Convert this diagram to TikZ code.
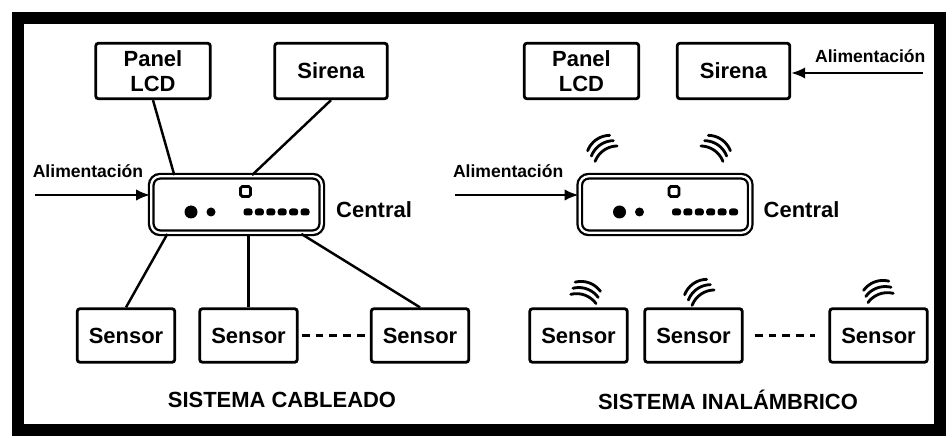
\documentclass[tikz,border=0pt]{standalone}
\usepackage{fontspec}
\setmainfont{Liberation Sans}
\usetikzlibrary{positioning,arrows.meta,calc}

\begin{document}
\begin{tikzpicture}[x=0.02cm, y=-0.02cm,
    unit/.style={draw, line width=1.6pt, rounded corners=1.5pt, align=center,
        inner sep=0pt, font=\bfseries\fontsize{12.5}{14.5}\selectfont},
    hub/.style={draw, double, line width=1.3pt, double distance=1.3pt,
        rounded corners=5pt, minimum width=3.41cm, minimum height=1.13cm},
    wire/.style={line width=1.4pt},
    feed/.style={line width=1.3pt, -{Latex[length=8pt,width=6.5pt]}},
    dots/.style={line width=1.8pt, dash pattern=on 4.5pt off 3.4pt},
    sig/.style={line width=1.6pt, line cap=round},
    tag/.style={inner sep=0pt, font=\bfseries\fontsize{12.5}{14.5}\selectfont},
    feedtag/.style={inner sep=0pt, font=\bfseries\fontsize{10}{12}\selectfont}]

    \useasboundingbox (0,0) rectangle (952,438);
    \draw[line width=0.23cm] (18,18) rectangle (940,430);

    % sistema cableado
    \node[unit, minimum width=2.29cm, minimum height=1.11cm] (panelL) at (153,71) {Panel\\LCD};
    \node[unit, minimum width=2.25cm, minimum height=1.11cm] (sirL) at (331,71) {Sirena};
    \node[hub] (cenL) at (236.5,204.5) {};
    \node[tag] (cenLtag) [right=0.26cm of cenL, yshift=-0.1cm] {Central};
    \node[unit, minimum width=1.95cm, minimum height=1.07cm] (sen1L) at (126,335.5) {Sensor};
    \node[unit, minimum width=1.95cm, minimum height=1.07cm] (sen2L) at (248.5,335.5) {Sensor};
    \node[unit, minimum width=1.95cm, minimum height=1.07cm] (sen3L) at (420,335.5) {Sensor};
    \node[tag] (capL) at (282,400) {SISTEMA CABLEADO};

    \coordinate (alimL) at (35,195);
    \draw[feed] (alimL) -- (alimL -| cenL.west)
        node[feedtag, pos=0.46, above=9pt] {Alimentación};

    \draw[wire] (panelL.south) -- ($(cenL.north west)!0.14!(cenL.north east)$);
    \draw[wire] (sirL.south) -- ($(cenL.north west)!0.59!(cenL.north east)$);
    \draw[wire] ($(cenL.south west)!0.10!(cenL.south east)$) -- (sen1L.north);
    \draw[wire] (sen2L.north |- cenL.south) -- (sen2L.north);
    \draw[wire] ($(cenL.south west)!0.875!(cenL.south east)$) -- (sen3L.north);
    \draw[dots, shorten <=0.06cm, shorten >=0.06cm] (sen2L.east) -- (sen3L.west);

    % sistema inalambrico
    \node[unit, minimum width=2.29cm, minimum height=1.11cm] (panelR) at (581.5,71) {Panel\\LCD};
    \node[unit, minimum width=2.25cm, minimum height=1.11cm] (sirR) at (733.5,71) {Sirena};
    \node[hub] (cenR) at (665,204.5) {};
    \node[tag] (cenRtag) [right=0.24cm of cenR, yshift=-0.1cm] {Central};
    \node[unit, minimum width=1.95cm, minimum height=1.07cm] (sen1R) at (578.5,335.5) {Sensor};
    \node[unit, minimum width=1.95cm, minimum height=1.07cm] (sen2R) at (693.5,335.5) {Sensor};
    \node[unit, minimum width=1.95cm, minimum height=1.07cm] (sen3R) at (878.5,335.5) {Sensor};
    \node[tag] (capR) at (728,400) {SISTEMA INALÁMBRICO};

    \coordinate (alimC) at (455,195);
    \draw[feed] (alimC) -- (alimC -| cenR.west)
        node[feedtag, pos=0.43, above=9pt] {Alimentación};
    \coordinate (alimS) at (923,73);
    \draw[feed] (alimS) -- (alimS -| sirR.east)
        node[feedtag, pos=0.4, above=5pt] {Alimentación};
    \draw[dots, shorten <=0.22cm, shorten >=0.26cm] (sen2R.east) -- (sen3R.west);

    % frente de la central
    \foreach \c in {cenL, cenR} {
        \draw[line width=1.6pt, rounded corners=1pt] ($(\c)+(4,-18)$) rectangle ++(10,10);
        \fill ($(\c)+(-45.5,7.5)$) circle[radius=0.13cm];
        \fill ($(\c)+(-25.5,7.5)$) circle[radius=0.09cm];
        \foreach \i in {0,...,5}
            \fill[rounded corners=1.5pt] ($(\c)+(7+11.4*\i,4)$) rectangle ++(9,7);
    }

    % ondas
    \foreach \mx/\my/\d in {600/145/235, 718/145/305, 587/289/290, 697/289/235, 877/288/250}
        \foreach \k in {-1,0,1} {
            \pgfmathsetmacro\da{\d-34}
            \pgfmathsetmacro\db{\d+34}
            \draw[sig] plot[domain=\da:\db, samples=12]
                ({\mx+(\k*6.5-24)*cos(\d)+24*cos(\x)}, {\my+(\k*6.5-24)*sin(\d)+24*sin(\x)});
        }

\end{tikzpicture}
\end{document}
